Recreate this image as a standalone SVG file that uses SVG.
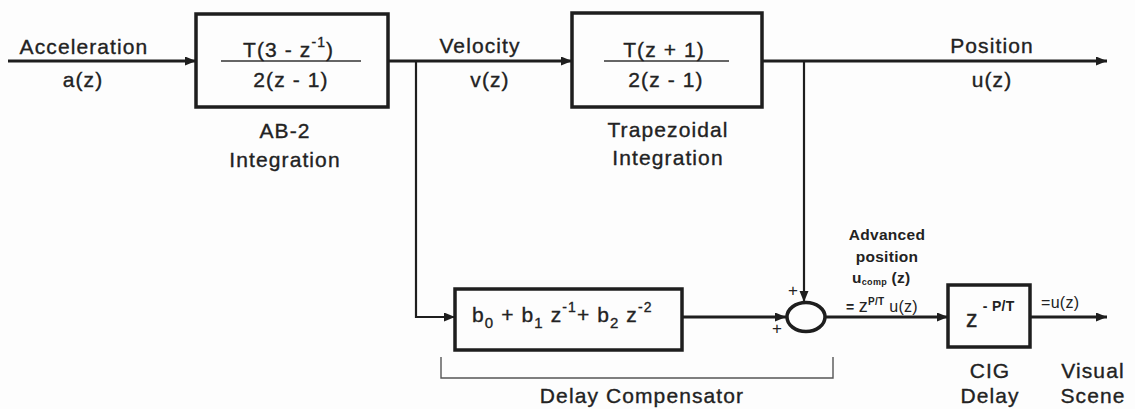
<svg xmlns="http://www.w3.org/2000/svg" width="1135" height="409" viewBox="0 0 1135 409">
<defs>
<style>
.t{font-family:"Liberation Sans",Arial,sans-serif;font-size:21px;fill:#222;stroke:#222;stroke-width:0.35;letter-spacing:1.1px}
.s{font-family:"Liberation Sans",Arial,sans-serif;font-size:14px;font-weight:bold;fill:#222;letter-spacing:0.3px}
.box{fill:none;stroke:#1e1e1e;stroke-width:3.5}
.ln{fill:none;stroke:#1e1e1e;stroke-width:3}
.thin{fill:none;stroke:#1e1e1e;stroke-width:2.2}
.frac{stroke:#333;stroke-width:1.6}
.br{fill:none;stroke:#555;stroke-width:1.4}
</style>
<marker id="ah" markerUnits="userSpaceOnUse" markerWidth="12" markerHeight="10" refX="11" refY="4.5" orient="auto">
<path d="M0,0 L11,4.5 L0,9 z" fill="#1e1e1e"/>
</marker>
</defs>
<rect width="1135" height="409" fill="#fdfdfd"/>

<g id="connectors">
<path class="ln" d="M8,61 H196" marker-end="url(#ah)"/>
<path class="ln" d="M388,61 H572" marker-end="url(#ah)"/>
<path class="ln" d="M762,61 H1107" marker-end="url(#ah)"/>
<path class="thin" d="M416,61 V317 H455" marker-end="url(#ah)"/>
<path class="thin" d="M804,61 V302" marker-end="url(#ah)"/>
<path class="ln" d="M682,317 H786" marker-end="url(#ah)"/>
<path class="ln" d="M826,317 H948" marker-end="url(#ah)"/>
<path class="ln" d="M1030,317 H1107" marker-end="url(#ah)"/>
</g>

<g id="input-labels">
<text class="t" x="84" y="54" text-anchor="middle">Acceleration</text>
<text class="t" x="83" y="87" text-anchor="middle">a(z)</text>
</g>

<g id="ab2">
<rect class="box" x="196" y="14" width="192" height="93"/>
<line class="frac" x1="221" y1="61" x2="361" y2="61"/>
<text class="t" x="243" y="57">T(3 - z<tspan font-size="14" dy="-10">-1</tspan><tspan dy="10">)</tspan></text>
<text class="t" x="291" y="87" text-anchor="middle">2(z - 1)</text>
<text class="t" x="285" y="138" text-anchor="middle">AB-2</text>
<text class="t" x="285" y="167" text-anchor="middle">Integration</text>
</g>

<g id="velocity-labels">
<text class="t" x="480" y="53" text-anchor="middle">Velocity</text>
<text class="t" x="490" y="87" text-anchor="middle">v(z)</text>
</g>

<g id="trap">
<rect class="box" x="572" y="13" width="190" height="94"/>
<line class="frac" x1="604" y1="61" x2="729" y2="61"/>
<text class="t" x="664" y="57" text-anchor="middle">T(z + 1)</text>
<text class="t" x="666" y="87" text-anchor="middle">2(z - 1)</text>
<text class="t" x="668" y="137" text-anchor="middle">Trapezoidal</text>
<text class="t" x="668" y="165" text-anchor="middle">Integration</text>
</g>

<g id="position-labels">
<text class="t" x="992" y="53" text-anchor="middle">Position</text>
<text class="t" x="992" y="87" text-anchor="middle">u(z)</text>
</g>

<g id="compensator">
<rect class="box" x="455" y="289" width="227" height="61"/>
<text class="t" x="472" y="322">b<tspan font-size="15" dy="6">0</tspan><tspan dy="-6"> + b</tspan><tspan font-size="15" dy="6">1</tspan><tspan dy="-6"> z</tspan><tspan font-size="14" dy="-10">-1</tspan><tspan dy="10">+ b</tspan><tspan font-size="15" dy="6">2</tspan><tspan dy="-6"> z</tspan><tspan font-size="14" dy="-10">-2</tspan></text>
</g>

<g id="bracket">
<path class="br" d="M441,357 V378 H833 V357"/>
<text class="t" x="642" y="403" text-anchor="middle">Delay Compensator</text>
</g>

<g id="sum">
<ellipse cx="806" cy="317" rx="19" ry="14.5" fill="none" stroke="#1e1e1e" stroke-width="3.5"/>
<text class="s" x="793" y="296" text-anchor="middle" style="font-size:17px;font-weight:normal">+</text>
<text class="s" x="777" y="334" text-anchor="middle" style="font-size:17px;font-weight:normal">+</text>
</g>

<g id="advanced-labels">
<text class="s" x="887" y="240" text-anchor="middle" style="font-size:15.5px">Advanced</text>
<text class="s" x="887" y="262" text-anchor="middle" style="font-size:15.5px">position</text>
<text class="s" x="852" y="283" style="font-size:15.5px">u<tspan font-size="9" dy="2">comp</tspan><tspan dy="-2"> (z)</tspan></text>
<text class="s" x="846" y="312">= <tspan font-size="18" font-weight="normal">z</tspan><tspan font-size="10" dy="-7">P/T</tspan><tspan dy="7" font-size="16" font-weight="normal"> u(z)</tspan></text>
</g>

<g id="cig">
<rect class="box" x="948" y="285" width="82" height="62"/>
<text class="t" x="966" y="327" style="font-size:23px">z<tspan font-size="14" font-weight="bold" stroke-width="0" letter-spacing="0.3" dy="-16"> - P/T</tspan></text>
<text class="t" x="990" y="378" text-anchor="middle">CIG</text>
<text class="t" x="990" y="403" text-anchor="middle">Delay</text>
</g>

<g id="output-labels">
<text class="s" x="1041" y="308" style="font-size:16px;font-weight:normal">=u(z)</text>
<text class="t" x="1093" y="378" text-anchor="middle">Visual</text>
<text class="t" x="1093" y="403" text-anchor="middle">Scene</text>
</g>
</svg>
